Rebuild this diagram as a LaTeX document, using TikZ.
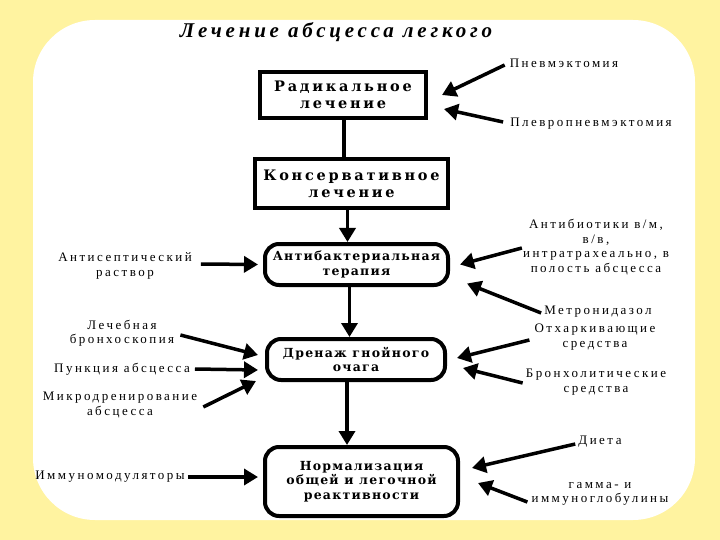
\documentclass[tikz,border=0pt]{standalone}
\usepackage{fontspec}
\setmainfont{Liberation Serif}
\newfontfamily\titlefont[LetterSpace=18]{Liberation Serif}
\newfontfamily\boxfont[LetterSpace=19]{DejaVu Serif}
\newfontfamily\stagefont[LetterSpace=10]{DejaVu Serif}
\newfontfamily\sidefont[LetterSpace=19]{Liberation Serif}
\usetikzlibrary{arrows.meta,calc}
\definecolor{pagebg}{RGB}{255,243,160}

\begin{document}
\begin{tikzpicture}
[
    x = 1pt, y = -1pt,
    panel/.style={fill = white, draw = none, rounded corners = 62pt},
    bigstage/.style={draw, line width = 4pt, align = center, inner sep = 0pt,
        font = \boxfont\bfseries\fontsize{14.5}{17}\selectfont},
    stage/.style={draw, line width = 4pt, align = center, inner sep = 0pt,
        rounded corners = 14pt, font = \stagefont\bfseries\fontsize{12.5}{14.5}\selectfont},
    side/.style={align = center, inner sep = 1pt, font = \sidefont\fontsize{13}{14.5}\selectfont},
    feed/.style={-{Triangle[length = 14pt, width = 16pt]}, line width = 3.5pt},
    link/.style={line width = 3.5pt},
]

% background and white panel
\fill[pagebg] (0,0) rectangle (720,540);
\path[panel] (33,20) rectangle (695,520);

% title
\node[font = \titlefont\bfseries\itshape\fontsize{21}{24}\selectfont] (title) at (336,32) {Лечение абсцесса легкого};

% main chain
\node[bigstage, minimum width = 166pt, minimum height = 46pt] (rad) at (343,95) {Радикальное\\лечение};
\node[bigstage, minimum width = 193pt, minimum height = 49pt] (kons) at (351.5,183.5) {Консервативное\\лечение};
\node[stage, minimum width = 183pt, minimum height = 41pt] (antib) at (356.5,264.5) {Антибактериальная\\терапия};
\node[stage, minimum width = 178pt, minimum height = 41pt] (dren) at (356,359.5) {Дренаж гнойного\\очага};
\node[stage, minimum width = 193pt, minimum height = 69pt] (norm) at (361.5,481.5) {Нормализация\\общей и легочной\\реактивности};

\draw[link] ($(rad.south)+(1,0)$) -- ($(rad.south |- kons.north)+(1,0)$);
\draw[feed] ($(kons.south)+(-4,0)$) -- ($(kons.south |- antib.north)+(-4,0)$);
\draw[feed] ($(antib.south)+(-7,0)$) -- ($(antib.south |- dren.north)+(-7,0)$);
\draw[feed] ($(dren.south)+(-9,0)$) -- ($(dren.south |- norm.north)+(-9,0)$);

% left side
\node[side] (antisep) at (125,266) {Антисептический\\раствор};
\node[side] (lechbr) at (122,333) {Лечебная\\бронхоскопия};
\node[side] (punk) at (122,369) {Пункция абсцесса};
\node[side] (mikro) at (120,405) {Микродренирование\\абсцесса};
\node[side] (immun) at (110,477) {Иммуномодуляторы};

\draw[feed] ($(antisep.east)+(8,-2)$) -- ($(antib.west)+(-5,0)$);
\draw[feed] ($(lechbr.east)+(5,2)$) -- ($(dren.west)+(-7,-4.5)$);
\draw[feed] ($(punk.east)+(4,0)$) -- ($(dren.west)+(-7,10.5)$);
\draw[feed] ($(mikro.east)+(5,2)$) -- ($(dren.west)+(-9,21.5)$);
\draw[feed] ($(immun.east)+(2,0)$) -- ($(norm.west)+(-5,-4.5)$);

% right side
\node[side] (pnev) at (564,63) {Пневмэктомия};
\node[side] (plevr) at (591,124) {Плевропневмэктомия};
\node[side] (antibio) at (596,247) {Антибиотики в/м,\\в/в,\\интратрахеально, в\\полость абсцесса};
\node[side] (metro) at (598,312) {Метронидазол};
\node[side] (otxark) at (595,337) {Отхаркивающие\\средства};
\node[side] (bronxo) at (596,382) {Бронхолитические\\средства};
\node[side] (dieta) at (600,442) {Диета};
\node[side] (gamma) at (600,494) {гамма- и\\иммуноглобулины};

\draw[feed] ($(pnev.west)+(-4,2)$) -- ($(rad.east)+(14,0)$);
\draw[feed] ($(plevr.west)+(-6,-2)$) -- ($(rad.east)+(16,14)$);
\draw[feed] ($(antibio.west)+(0,1)$) -- ($(antib.east)+(10,0)$);
\draw[feed] ($(metro.west)+(-2,1)$) -- ($(antib.east)+(17,19)$);
\draw[feed] ($(otxark.west)+(-4,3)$) -- ($(dren.east)+(10,-1.5)$);
\draw[feed] ($(bronxo.west)+(-2,1)$) -- ($(dren.east)+(16,8.5)$);
\draw[feed] ($(dieta.west)+(-2,2)$) -- ($(norm.east)+(12,-13.5)$);
\draw[feed] ($(gamma.west)+(-3,8)$) -- ($(norm.east)+(18,1.5)$);
\end{tikzpicture}
\end{document}
